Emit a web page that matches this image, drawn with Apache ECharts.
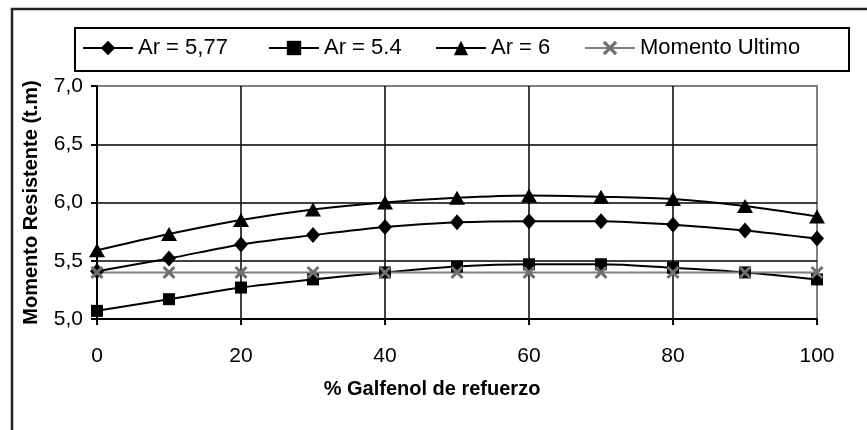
<!DOCTYPE html>
<html>
<head>
<meta charset="utf-8">
<script src="https://cdn.jsdelivr.net/npm/echarts@6/dist/echarts.min.js"></script>
<style>
html,body{margin:0;padding:0;background:#fff;}
#chart{width:867px;height:430px;}
</style>
</head>
<body>
<div id="chart"></div>
<script>
// ---- data ----
const pct = [0, 10, 20, 30, 40, 50, 60, 70, 80, 90, 100];
const ar577 = [5.41, 5.52, 5.64, 5.72, 5.79, 5.83, 5.84, 5.84, 5.81, 5.76, 5.69];
const ar54  = [5.07, 5.17, 5.27, 5.34, 5.40, 5.45, 5.47, 5.47, 5.44, 5.40, 5.34];
const ar6   = [5.59, 5.73, 5.85, 5.94, 6.00, 6.04, 6.06, 6.05, 6.03, 5.97, 5.88];
const momentoUltimo = [5.40, 5.40, 5.40, 5.40, 5.40, 5.40, 5.40, 5.40, 5.40, 5.40, 5.40];
const seriesNames = ['Ar = 5,77', 'Ar = 5.4', 'Ar = 6', 'Momento Ultimo'];
const xTitle = '% Galfenol de refuerzo';
const yTitle = 'Momento Resistente (t.m)';

const pair = arr => pct.map((x, i) => [x, arr[i]]);
const FONT = '"Liberation Sans", Arial, sans-serif';
const xMark = 'path://M0,1.6 L1.6,0 L5,3.4 L8.4,0 L10,1.6 L6.6,5 L10,8.4 L8.4,10 L5,6.6 L1.6,10 L0,8.4 L3.4,5 Z';

function legendAt(name, left) {
  return {
    data: [name], left: left, top: 37, padding: 0,
    itemWidth: 50, itemHeight: 18, selectedMode: false,
    lineStyle: { width: 2 },
    textStyle: { fontFamily: FONT, fontSize: 22, color: '#000' }
  };
}

const chart = echarts.init(document.getElementById('chart'), null, { renderer: 'canvas' });
chart.setOption({
  backgroundColor: '#fff',
  animation: false,
  graphic: [
    { type: 'rect', z: -10, shape: { x: 12, y: 9, width: 900, height: 500 },
      style: { fill: '#fff', stroke: '#222', lineWidth: 2.5 } },
    { type: 'rect', z: 0, shape: { x: 75, y: 28, width: 774, height: 43 },
      style: { fill: '#fff', stroke: '#000', lineWidth: 2 } }
  ],
  legend: [
    legendAt(seriesNames[0], 82),
    legendAt(seriesNames[1], 268),
    legendAt(seriesNames[2], 435),
    legendAt(seriesNames[3], 584)
  ],
  grid: { left: 97, top: 86, right: 50, bottom: 111, show: true,
          borderColor: '#808080', borderWidth: 2, backgroundColor: 'transparent' },
  xAxis: {
    type: 'value', min: 0, max: 100, interval: 20,
    name: xTitle, nameLocation: 'middle', nameGap: 60,
    nameTextStyle: { fontFamily: FONT, fontSize: 20, fontWeight: 'bold', color: '#000', padding: [0, 50, 0, 0] },
    axisLine: { show: true, onZero: false, lineStyle: { color: '#000', width: 2 } },
    axisTick: { show: true, inside: false, length: 6, lineStyle: { color: '#000', width: 2 } },
    axisLabel: { margin: 27, fontFamily: FONT, fontSize: 21, color: '#000' },
    splitLine: { show: true, showMinLine: false, showMaxLine: false, lineStyle: { color: '#000', width: 1.5 } }
  },
  yAxis: {
    type: 'value', min: 5, max: 7, interval: 0.5,
    name: yTitle, nameLocation: 'middle', nameGap: 56,
    nameTextStyle: { fontFamily: FONT, fontSize: 20, fontWeight: 'bold', color: '#000' },
    axisLine: { show: true, onZero: false, lineStyle: { color: '#000', width: 2 } },
    axisTick: { show: true, inside: false, length: 6, lineStyle: { color: '#000', width: 2 } },
    axisLabel: { margin: 14, fontFamily: FONT, fontSize: 21, color: '#000',
                 formatter: v => v.toFixed(1).replace('.', ',') },
    splitLine: { show: true, showMinLine: false, showMaxLine: false, lineStyle: { color: '#000', width: 1.5 } }
  },
  series: [
    { name: seriesNames[0], type: 'line', data: pair(ar577), smooth: 0.3,
      symbol: 'diamond', symbolSize: [14, 16],
      lineStyle: { color: '#000', width: 2 }, itemStyle: { color: '#000' } },
    { name: seriesNames[1], type: 'line', data: pair(ar54), smooth: 0.3,
      symbol: 'rect', symbolSize: 12,
      lineStyle: { color: '#000', width: 2 }, itemStyle: { color: '#000' } },
    { name: seriesNames[2], type: 'line', data: pair(ar6), smooth: 0.3,
      symbol: 'triangle', symbolSize: [16, 14],
      lineStyle: { color: '#000', width: 2 }, itemStyle: { color: '#000' } },
    { name: seriesNames[3], type: 'line', data: pair(momentoUltimo), smooth: 0.3,
      symbol: xMark, symbolSize: 13,
      lineStyle: { color: '#808080', width: 2 }, itemStyle: { color: '#707070' } }
  ]
});
</script>
</body>
</html>
